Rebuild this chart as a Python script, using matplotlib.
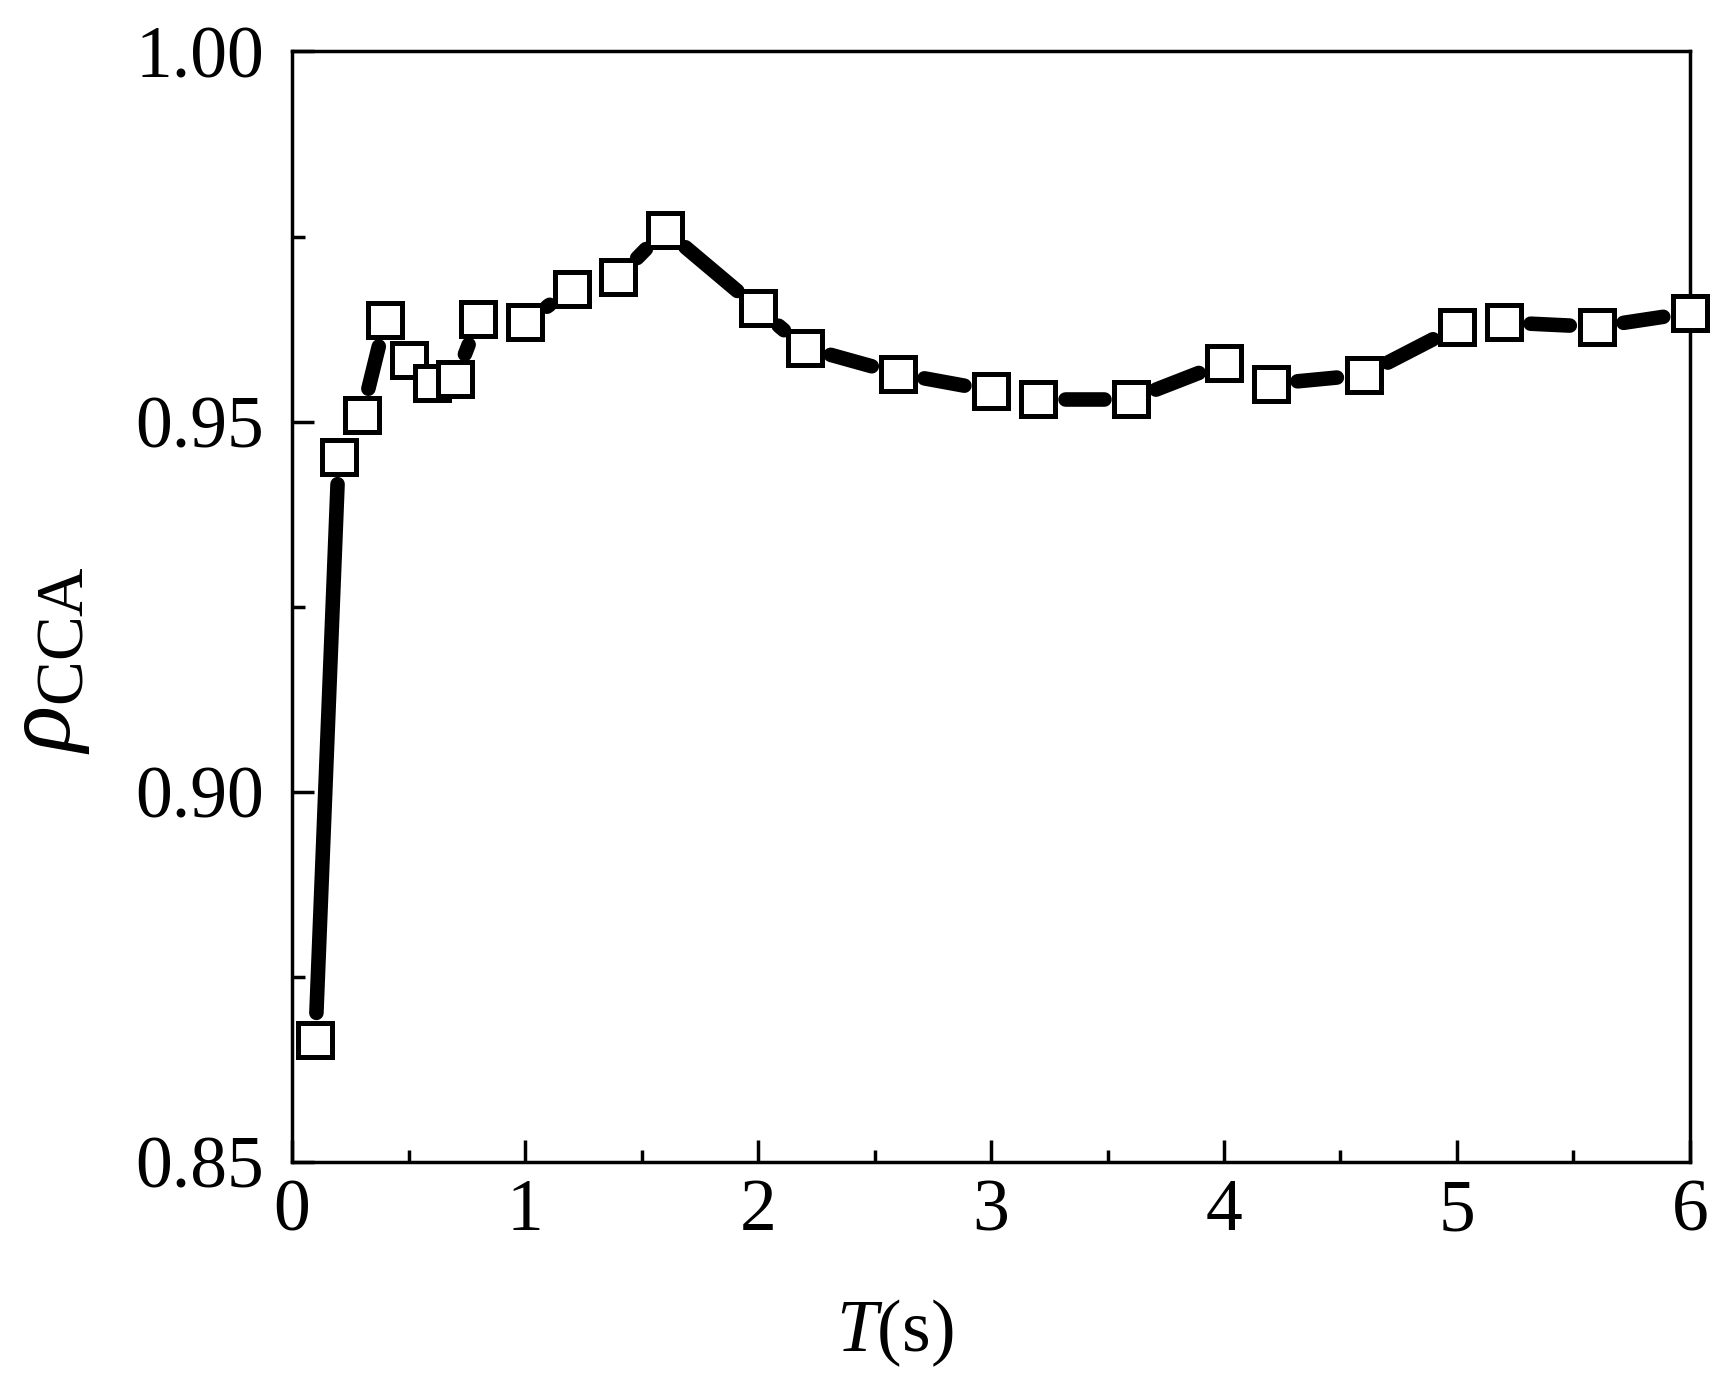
import numpy as np
import matplotlib.pyplot as plt

plt.rcParams['font.family'] = ['Liberation Serif', 'DejaVu Serif']
plt.rcParams['mathtext.fontset'] = 'custom'
plt.rcParams['mathtext.rm'] = 'Liberation Serif'
plt.rcParams['mathtext.it'] = 'Liberation Serif:italic'

# period T (s) and canonical correlation coefficient
period = [0.1, 0.2, 0.3, 0.4, 0.5, 0.6, 0.7, 0.8, 1.0, 1.2, 1.4, 1.6, 2.0, 2.2,
          2.6, 3.0, 3.2, 3.6, 4.0, 4.2, 4.6, 5.0, 5.2, 5.6, 6.0]
rho_cca = [0.8665, 0.9452, 0.9509, 0.9637, 0.9583, 0.9552, 0.9557, 0.9638,
           0.9634, 0.9679, 0.9695, 0.9759, 0.9653, 0.9600, 0.9565, 0.9542,
           0.9530, 0.9530, 0.9579, 0.9551, 0.9563, 0.9628, 0.9634, 0.9628,
           0.9647]

fig = plt.figure(figsize=(17.28, 13.9), dpi=100)
ax = fig.add_axes([0.169, 0.164, 0.809, 0.799])
ax.set_xlim(0, 6)
ax.set_ylim(0.85, 1.00)

# line segments with a gap around each symbol (Origin style)
gap = 27  # pixels
pts = ax.transData.transform(np.column_stack([period, rho_cca]))
inv = ax.transData.inverted()
for p0, p1 in zip(pts[:-1], pts[1:]):
    d = p1 - p0
    L = np.hypot(*d)
    if L <= 2 * gap:
        continue
    u = d / L
    seg = inv.transform(np.array([p0 + u * gap, p1 - u * gap]))
    ax.plot(seg[:, 0], seg[:, 1], color='black', lw=10.5,
            solid_capstyle='round', clip_on=False)

ax.plot(period, rho_cca, ls='none', marker='s', ms=24.5, mfc='white',
        mec='black', mew=3.6, clip_on=False, zorder=5)

ax.set_xticks(np.arange(0, 7, 1))
ax.set_xticks(np.arange(0.5, 6, 1), minor=True)
ax.set_yticks([0.85, 0.90, 0.95, 1.00])
ax.set_yticks([0.875, 0.925, 0.975], minor=True)
ax.set_yticklabels(['0.85', '0.90', '0.95', '1.00'])

ax.tick_params(which='both', direction='in', top=False, right=False,
               width=2.5, labelsize=53)
ax.tick_params(which='major', length=16)
ax.tick_params(which='minor', length=9)
ax.tick_params(axis='y', pad=20)
ax.tick_params(axis='x', pad=12)
for s in ax.spines.values():
    s.set_linewidth(2.5)

ax.set_xlabel(r'$T$(s)', fontsize=53)
ax.set_ylabel(r'$\rho_{\mathrm{CCA}}$', fontsize=69)
ax.xaxis.set_label_coords(0.431, -0.122)
ax.yaxis.set_label_coords(-0.143, 0.452)

fig.savefig('out.png', dpi=100)
